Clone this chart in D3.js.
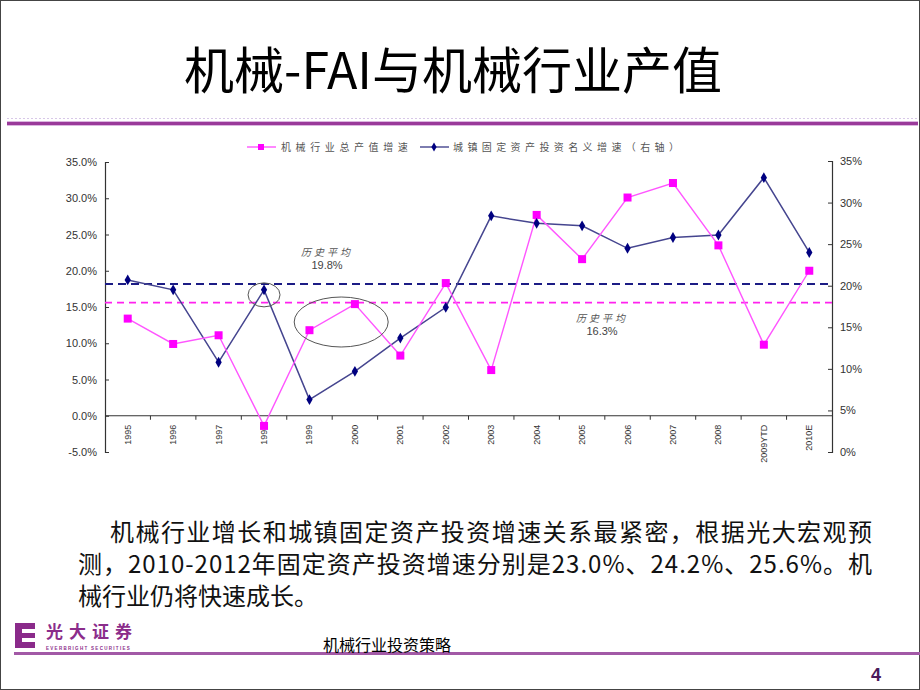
<!DOCTYPE html>
<html><head><meta charset="utf-8">
<script src="https://cdn.jsdelivr.net/npm/d3@7"></script>
<style>html,body{margin:0;padding:0;background:#fff;}svg{display:block;}</style>
</head><body>
<svg id="chart" width="920" height="690"></svg>
<script>
const categories = ["1995","1996","1997","1998","1999","2000","2001","2002","2003","2004","2005","2006","2007","2008","2009YTD","2010E"];
const outputGrowth = [13.4,9.9,11.1,-1.4,11.8,15.4,8.3,18.3,6.3,27.7,21.6,30.1,32.1,23.5,9.8,20.0];
const faiGrowth = [20.7,19.5,10.8,19.5,6.3,9.7,13.7,17.4,28.4,27.5,27.2,24.5,25.8,26.1,33.0,24.0];
const leftTicks = [-5,0,5,10,15,20,25,30,35];
const rightTicks = [0,5,10,15,20,25,30,35];
const seriesNames = ["机械行业总产值增速","城镇固定资产投资名义增速（右轴）"];
const avgFaiLine = 20.2;      // right axis, as drawn
const avgOutputLine = 15.6;   // left axis, as drawn
const avgLabels = [{t1:"历史平均", t2:"19.8%"},{t1:"历史平均", t2:"16.3%"}];
const title = "机械-FAI与机械行业产值";
const bodyLines = ["机械行业增长和城镇固定资产投资增速关系最紧密，根据光大宏观预",
  "测，2010-2012年固定资产投资增速分别是23.0%、24.2%、25.6%。机",
  "械行业仍将快速成长。"];
const footerText = "机械行业投资策略";
const pageNo = "4";

const svg = d3.select("#chart");
const SANS = "'Liberation Sans', Arial, sans-serif";
const CJK = "'Noto Sans CJK SC', sans-serif";

// slide border
svg.append("rect").attr("x",0.5).attr("y",0.5).attr("width",919).attr("height",689)
  .attr("fill","none").attr("stroke","#444").attr("stroke-width",1);

// title
svg.append("text").attr("x",453).attr("y",89).attr("text-anchor","middle")
  .attr("font-family",CJK).attr("font-size",50).attr("fill","#000").text(title);
svg.append("line").attr("x1",7).attr("x2",918).attr("y1",118.5).attr("y2",118.5)
  .attr("stroke","#d8c8e8").attr("stroke-width",1).attr("stroke-dasharray","2,2");
svg.append("rect").attr("x",7).attr("y",121).attr("width",911).attr("height",5)
  .attr("fill","#dcb6e0");
svg.append("rect").attr("x",7).attr("y",122).attr("width",911).attr("height",3)
  .attr("fill","#9a3a9a");

// scales
const x = d3.scaleBand().domain(categories).range([105,832]);
const yL = d3.scaleLinear().domain([-5,35]).range([452,162]);
const yR = d3.scaleLinear().domain([0,35]).range([452,161]);
const cx = d => x(d) + x.bandwidth()/2;

// axes
const gL = svg.append("g").attr("transform","translate(105,0)")
  .call(d3.axisLeft(yL).tickValues(leftTicks).tickSize(-4).tickPadding(8).tickFormat(d=>d.toFixed(1)+"%"));
const gR = svg.append("g").attr("transform","translate(832,0)")
  .call(d3.axisRight(yR).tickValues(rightTicks).tickSize(-4).tickPadding(8).tickFormat(d=>d+"%"));
[gL,gR].forEach(g=>{
  g.selectAll("path").attr("stroke","#333").attr("stroke-width",1.2);
  g.selectAll("line").attr("stroke","#333");
  g.selectAll("text").attr("font-family",SANS).attr("font-size",11).attr("fill","#333");
});

// x axis at zero
const y0 = yL(0);
svg.append("line").attr("x1",105).attr("x2",832).attr("y1",y0).attr("y2",y0)
  .attr("stroke","#333").attr("stroke-width",1.2);
svg.append("g").selectAll("line").data(categories.slice(1)).join("line")
  .attr("x1",d=>x(d)).attr("x2",d=>x(d)).attr("y1",y0).attr("y2",y0+4)
  .attr("stroke","#333");
svg.append("g").selectAll("text").data(categories).join("text")
  .attr("transform",d=>`translate(${cx(d)+3},${y0+9}) rotate(-90)`)
  .attr("text-anchor","end").attr("font-family",SANS).attr("font-size",9).attr("fill","#333")
  .text(d=>d);

// average dashed lines
svg.append("line").attr("x1",105).attr("x2",832).attr("y1",yR(avgFaiLine)).attr("y2",yR(avgFaiLine))
  .attr("stroke","#1c1c85").attr("stroke-width",2).attr("stroke-dasharray","8,5");
svg.append("line").attr("x1",105).attr("x2",832).attr("y1",yL(avgOutputLine)).attr("y2",yL(avgOutputLine))
  .attr("stroke","#ff22ee").attr("stroke-width",1.6).attr("stroke-dasharray","7,5");

// series lines
const lineL = d3.line().x((d,i)=>cx(categories[i])).y(d=>yL(d));
const lineR = d3.line().x((d,i)=>cx(categories[i])).y(d=>yR(d));
svg.append("path").attr("d",lineR(faiGrowth)).attr("fill","none").attr("stroke","#45458f").attr("stroke-width",1.5);
svg.append("path").attr("d",lineL(outputGrowth)).attr("fill","none").attr("stroke","#ff55ff").attr("stroke-width",1.4);

// markers
svg.append("g").selectAll("rect").data(outputGrowth).join("rect")
  .attr("x",(d,i)=>cx(categories[i])-4).attr("y",d=>yL(d)-4).attr("width",8).attr("height",8)
  .attr("fill","#ff00ff");
const diamond = d3.symbol().type(d3.symbolDiamond).size(34);
svg.append("g").selectAll("path").data(faiGrowth).join("path")
  .attr("d",diamond).attr("transform",(d,i)=>`translate(${cx(categories[i])},${yR(d)})`)
  .attr("fill","#000080");

// ellipses
svg.append("ellipse").attr("cx",cx("1998")).attr("cy",yR(faiGrowth[3])+5).attr("rx",16).attr("ry",12)
  .attr("fill","none").attr("stroke","#555").attr("stroke-width",1);
svg.append("ellipse").attr("cx",(cx("1999")+cx("2000"))/2+9).attr("cy",322).attr("rx",47).attr("ry",25)
  .attr("fill","none").attr("stroke","#555").attr("stroke-width",1);

// average annotations
const ann = [{x:327,y:256},{x:602,y:322}];
ann.forEach((a,i)=>{
  svg.append("text").attr("x",a.x).attr("y",a.y).attr("text-anchor","middle")
    .attr("font-family",CJK).attr("font-size",10).attr("letter-spacing",3).attr("fill","#555")
    .attr("font-style","italic").text(avgLabels[i].t1);
  svg.append("text").attr("x",a.x).attr("y",a.y+13).attr("text-anchor","middle")
    .attr("font-family",SANS).attr("font-size",11).attr("fill","#444").text(avgLabels[i].t2);
});

// legend
const lg = svg.append("g");
lg.append("line").attr("x1",247).attr("x2",276).attr("y1",147).attr("y2",147).attr("stroke","#ff55ff").attr("stroke-width",1.4);
lg.append("rect").attr("x",258).attr("y",144).attr("width",6).attr("height",6).attr("fill","#ff00ff");
lg.append("text").attr("x",281).attr("y",151).attr("font-family",CJK).attr("font-size",10)
  .attr("letter-spacing",4.6).attr("fill","#555").text(seriesNames[0]);
lg.append("line").attr("x1",420).attr("x2",449).attr("y1",147).attr("y2",147).attr("stroke","#45458f").attr("stroke-width",1.4);
lg.append("path").attr("d",d3.symbol().type(d3.symbolDiamond).size(24)).attr("transform","translate(434,147)").attr("fill","#000080");
lg.append("text").attr("x",453).attr("y",151).attr("font-family",CJK).attr("font-size",10)
  .attr("letter-spacing",4.4).attr("fill","#555").text(seriesNames[1]);

// body text
const body = [{x:110,y:541,w:762},{x:78,y:573,w:794},{x:78,y:605,w:0}];
bodyLines.forEach((t,i)=>{
  const tx = svg.append("text").attr("x",body[i].x).attr("y",body[i].y)
    .attr("font-family",CJK).attr("font-size",24).attr("fill","#111").text(t);
  if(body[i].w) tx.attr("textLength",body[i].w).attr("lengthAdjust","spacing");
});

// footer logo
const logo = svg.append("g");
logo.append("rect").attr("x",15).attr("y",623).attr("width",20).attr("height",25).attr("fill","#8a2a8a");
logo.append("rect").attr("x",22).attr("y",629).attr("width",13).attr("height",4).attr("fill","#fff");
logo.append("rect").attr("x",22).attr("y",638).attr("width",13).attr("height",4).attr("fill","#fff");
logo.append("text").attr("x",46).attr("y",638).attr("font-family",CJK).attr("font-weight","bold")
  .attr("font-size",17).attr("letter-spacing",6).attr("fill","#8b2d8b").text("光大证券");
logo.append("text").attr("x",46).attr("y",650).attr("font-family",SANS).attr("font-weight","bold")
  .attr("font-size",4.5).attr("letter-spacing",1.3).attr("fill","#8b2d8b").text("EVERBRIGHT SECURITIES");
svg.append("rect").attr("x",14).attr("y",652).attr("width",906).attr("height",3).attr("fill","#a259a6");
svg.append("text").attr("x",323).attr("y",651).attr("font-family",CJK).attr("font-size",16)
  .attr("fill","#000").text(footerText);
svg.append("text").attr("x",876).attr("y",681).attr("text-anchor","middle").attr("font-family",SANS)
  .attr("font-weight","bold").attr("font-size",18).attr("fill","#4a1a5a").text(pageNo);
</script>
</body></html>
